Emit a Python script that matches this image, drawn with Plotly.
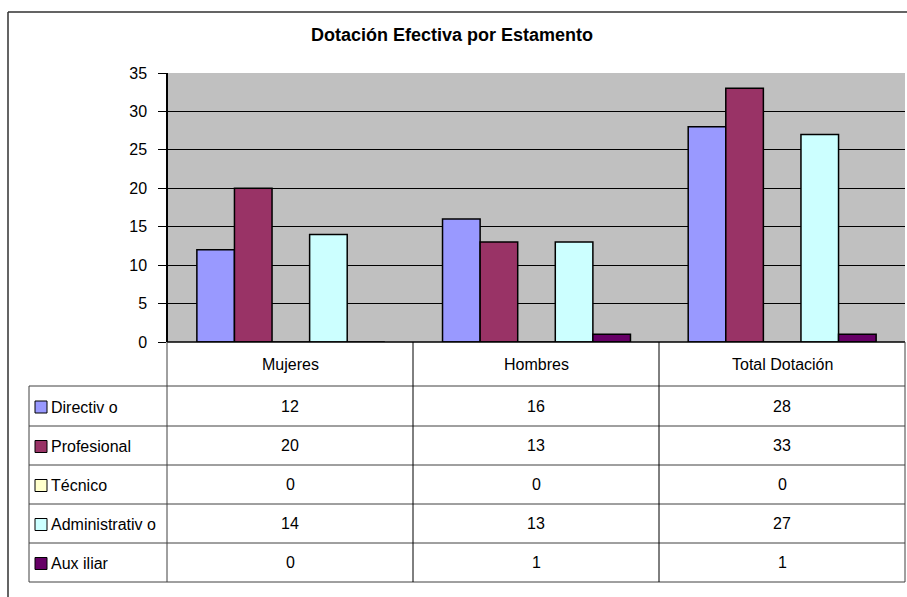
import plotly.graph_objects as go

categories = ["Mujeres", "Hombres", "Total Dotación"]
series_names = ["Directiv o", "Profesional", "Técnico", "Administrativ o", "Aux iliar"]
directivo = [12, 16, 28]
profesional = [20, 13, 33]
tecnico = [0, 0, 0]
administrativo = [14, 13, 27]
auxiliar = [0, 1, 1]
series_values = [directivo, profesional, tecnico, administrativo, auxiliar]
colors = ["#9999FF", "#993366", "#FFFFCC", "#CCFFFF", "#660066"]
y_ticks = [0, 5, 10, 15, 20, 25, 30, 35]

W, H = 907, 597
FONT = "Liberation Sans, Arial, sans-serif"

def px(x):
    return x / W

def py(y):
    return 1 - y / H

fig = go.Figure()
for name, vals, col in zip(series_names, series_values, colors):
    fig.add_trace(go.Bar(
        x=categories, y=vals, name=name,
        marker=dict(color=col, line=dict(color="black", width=1.5)),
        showlegend=False,
    ))

plot_l, plot_r, plot_t, plot_b = 168, 905, 73, 342
row_lines = [386, 426, 465, 504, 543, 582]
col_lines = [167, 413, 659, 905]
tab_left = 29

shapes = []
lc = "#404040"
def line(x0, y0, x1, y1, color=lc, width=1):
    shapes.append(dict(type="line", xref="paper", yref="paper",
                       x0=px(x0), y0=py(y0), x1=px(x1), y1=py(y1),
                       line=dict(color=color, width=width)))

# outer frame
line(8, 12, 907, 12, color="#303030", width=1.5)
line(8, 12, 8, 597, color="#303030", width=1.5)
# table
line(167, plot_b, 905, plot_b, color="black", width=1.5)
for y in row_lines:
    line(tab_left, y, 905, y)
line(tab_left, row_lines[0], tab_left, row_lines[-1])
for x in col_lines:
    line(x, plot_b, x, row_lines[-1], color="black" if x in (413, 659) else lc)

annotations = []
annotations.append(dict(text="<b>Dotación Efectiva por Estamento</b>", xref="paper", yref="paper",
                        x=px(452), y=py(35), showarrow=False, xanchor="center", yanchor="middle",
                        font=dict(family=FONT, size=18, color="black")))
for i, c in enumerate(categories):
    xc = (col_lines[i] + col_lines[i + 1]) / 2
    annotations.append(dict(text=c, xref="paper", yref="paper", x=px(xc), y=py((plot_b + row_lines[0]) / 2),
                            showarrow=False, xanchor="center", yanchor="middle",
                            font=dict(family=FONT, size=16, color="black")))
for r, (name, vals, col) in enumerate(zip(series_names, series_values, colors)):
    yc = (row_lines[r] + row_lines[r + 1]) / 2
    shapes.append(dict(type="rect", xref="paper", yref="paper",
                       x0=px(35), x1=px(47), y0=py(yc - 5), y1=py(yc + 7),
                       fillcolor=col, line=dict(color="black", width=1)))
    annotations.append(dict(text=name, xref="paper", yref="paper", x=px(49), y=py(yc + 1),
                            showarrow=False, xanchor="left", yanchor="middle",
                            font=dict(family=FONT, size=16, color="black")))
    for i, v in enumerate(vals):
        xc = (col_lines[i] + col_lines[i + 1]) / 2
        annotations.append(dict(text=str(v), xref="paper", yref="paper", x=px(xc), y=py(yc),
                                showarrow=False, xanchor="center", yanchor="middle",
                                font=dict(family=FONT, size=16, color="black")))

fig.update_layout(
    width=W, height=H, autosize=False,
    margin=dict(l=0, r=0, t=0, b=0, pad=0),
    paper_bgcolor="white", plot_bgcolor="#C0C0C0",
    barmode="group", bargap=0.235, bargroupgap=0,
    shapes=shapes, annotations=annotations,
    xaxis=dict(domain=[px(plot_l), px(plot_r)], range=[-0.5, 2.5], showticklabels=False,
               showgrid=False, zeroline=False, showline=False, ticks="", automargin=False),
    yaxis=dict(domain=[py(plot_b), py(plot_t)], range=[0, 35], tickvals=y_ticks,
               showgrid=True, gridcolor="black", gridwidth=1, zeroline=False,
               showline=True, linecolor="black", linewidth=1.5,
               ticks="outside", ticklen=8, tickcolor="black", tickwidth=1,
               ticklabelstandoff=8, automargin=False,
               tickfont=dict(family=FONT, size=16, color="black")),
    font=dict(family=FONT),
)

fig.write_html("out.html")
